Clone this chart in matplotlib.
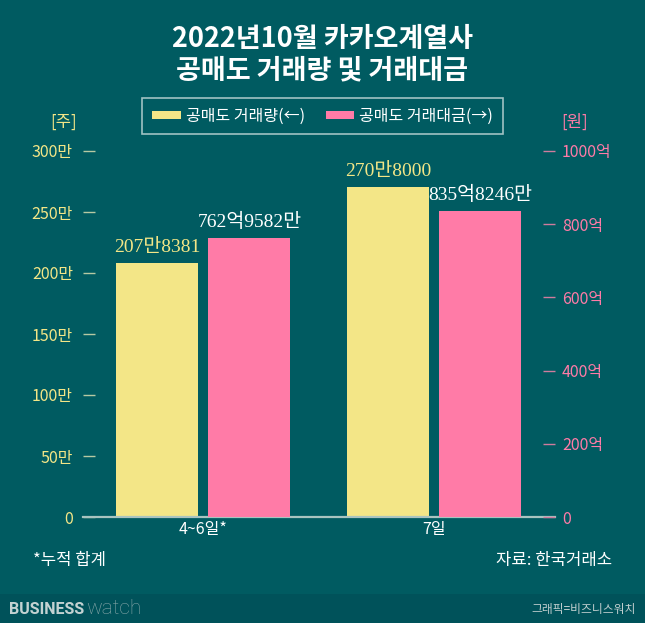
import numpy as np
import matplotlib
matplotlib.use('Agg')
from matplotlib import pyplot as plt
from matplotlib.patches import Rectangle

plt.rcParams['font.family'] = ['Noto Sans CJK KR', 'DejaVu Sans']

# data
periods = ['4~6일*', '7일']
volume_man = [207.8381, 270.8]        # 공매도 거래량, 만주
amount_eok = [762.9582, 835.8246]     # 공매도 거래대금, 억원
volume_labels = ['207만8381', '270만8000']
amount_labels = ['762억9582만', '835억8246만']
left_ticks = [0, 50, 100, 150, 200, 250, 300]
left_ticklabels = ['0', '50만', '100만', '150만', '200만', '250만', '300만']
right_ticks = [0, 200, 400, 600, 800, 1000]
right_ticklabels = ['0', '200억', '400억', '600억', '800억', '1000억']

BG = '#005B61'
FOOT = '#00525A'
YELLOW = '#F3E687'
PINK = '#FF7BA7'
W, H = 645, 623

def fx(px):
  return px / W

def fy(py):
  return 1 - py / H

fig = plt.figure(figsize=(6.45, 6.23), dpi=100, facecolor=BG)
fig.patches.append(Rectangle((0, 0), 1, fy(594), transform=fig.transFigure,
                             facecolor=FOOT, edgecolor='none', zorder=0))

ax = fig.add_axes([fx(83), fy(517), fx(555) - fx(83), fy(151) - fy(517)])
ax.set_facecolor('none')
ax2 = ax.twinx()

x = np.arange(len(periods))
width = 82 / 231
off = 46 / 231

b1 = ax.bar(x - off, volume_man, width, color=YELLOW, label='공매도 거래량(←)')
b2 = ax2.bar(x + off, amount_eok, width, color=PINK, label='공매도 거래대금(→)')

ax.set_xlim(-120.25 / 231, 1 + 120.5 / 231)
ax.set_ylim(0, 300)
ax2.set_ylim(0, 1000)

ax.set_yticks(left_ticks, labels=left_ticklabels)
ax2.set_yticks(right_ticks, labels=right_ticklabels)
ax.tick_params(axis='y', direction='in', length=8.6, width=1, pad=7.2,
               color='#b7c9a3', labelcolor=YELLOW, labelsize=11.5)
ax2.tick_params(axis='y', direction='in', length=8.6, width=1, pad=5,
                color='#d07c9e', labelcolor=PINK, labelsize=11.5)
ax.set_xticks(x, labels=periods)
ax.tick_params(axis='x', length=0, pad=3, labelcolor='white', labelsize=11.5)

for s in ['top', 'left', 'right']:
  ax.spines[s].set_visible(False)
for s in ['top', 'left', 'right', 'bottom']:
  ax2.spines[s].set_visible(False)
ax.spines['bottom'].set_color('#a9c4c0')
ax.spines['bottom'].set_linewidth(1.6)

serif = ['Liberation Serif', 'Noto Sans CJK KR']
for xi, v, lab in zip(x, volume_man, volume_labels):
  ax.annotate(lab, (xi - off, v), xytext=(0, 8), textcoords='offset points',
              ha='center', va='baseline', fontsize=14, color=YELLOW, family=serif)
for xi, v, lab in zip(x, amount_eok, amount_labels):
  ax2.annotate(lab, (xi + off, v), xytext=(0, 8), textcoords='offset points',
               ha='center', va='baseline', fontsize=14, color='white', family=serif)

# title
fig.text(0.5, fy(39), '2022년10월 카카오계열사', ha='center', va='center',
         fontsize=19.5, fontweight='heavy', color='white')
fig.text(0.5, fy(70), '공매도 거래량 및 거래대금', ha='center', va='center',
         fontsize=19.5, fontweight='heavy', color='white')

# legend
leg = fig.legend(handles=[b1, b2], loc='center', bbox_to_anchor=(fx(322.5), fy(116)),
                 ncol=2, fontsize=11.5, frameon=True, fancybox=False,
                 handlelength=1.8, handleheight=0.45, handletextpad=0.3,
                 columnspacing=1.3, borderpad=0.6)
leg.get_frame().set_facecolor('none')
leg.get_frame().set_edgecolor('#c9dcdc')
leg.get_frame().set_linewidth(1.2)
for t in leg.get_texts():
  t.set_color('white')

fig.text(fx(64), fy(122), '[주]', ha='center', va='center', fontsize=12, color=YELLOW)
fig.text(fx(575), fy(122), '[원]', ha='center', va='center', fontsize=12, color=PINK)

fig.text(fx(33), fy(560), '*누적 합계', ha='left', va='center', fontsize=12, color='white')
fig.text(fx(612), fy(560), '자료: 한국거래소', ha='right', va='center', fontsize=12, color='white')

# footer
fig.text(fx(9), fy(609), 'BUSINESS', ha='left', va='center', fontsize=11.5,
         fontweight='bold', color='#c3d2d2', family='Roboto')
fig.text(fx(86), fy(608), 'watch', ha='left', va='center', fontsize=15,
         fontweight='light', color='#86a6a8', family='Roboto')
fig.text(fx(636), fy(609), '그래픽=비즈니스워치', ha='right', va='center', fontsize=8.5,
         color='#c0cece')

fig.savefig('out.png', dpi=100, facecolor=BG)
